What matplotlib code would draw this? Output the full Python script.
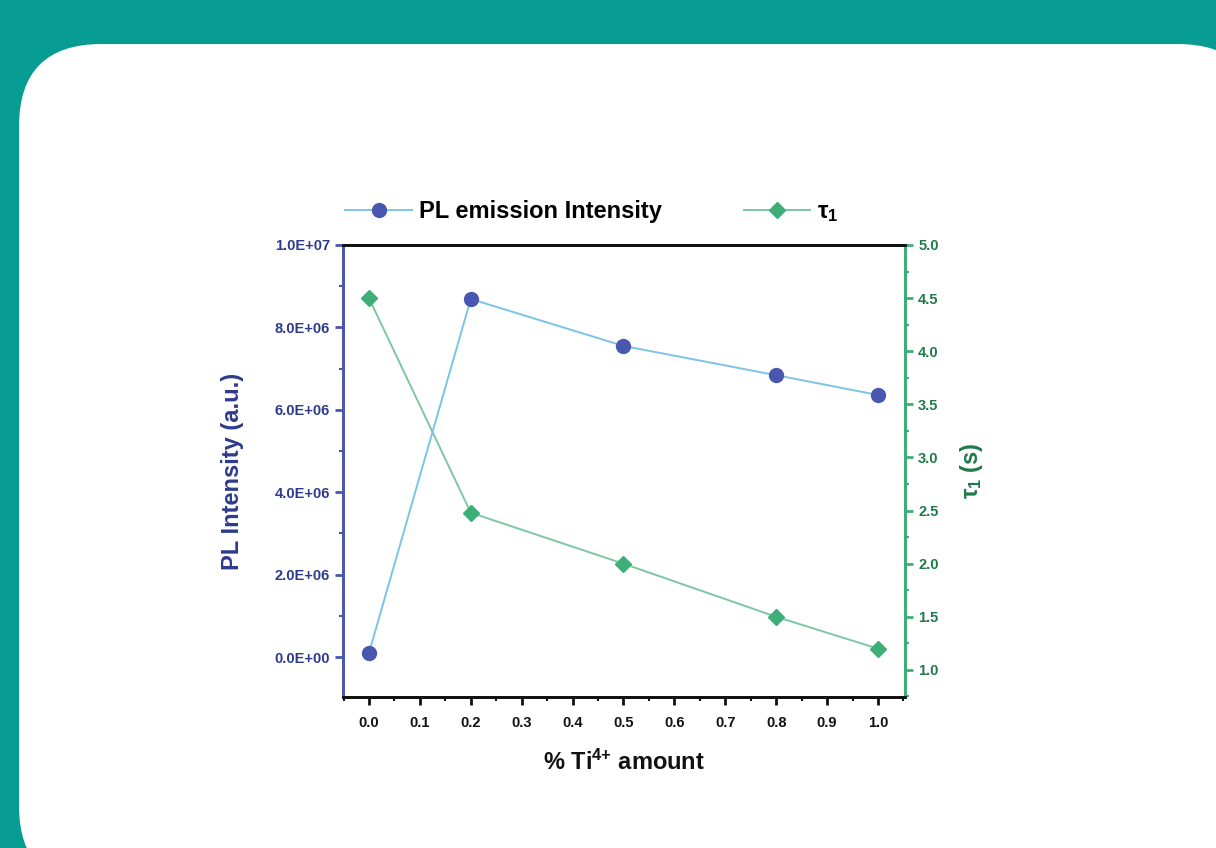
import matplotlib
matplotlib.use("Agg")
import matplotlib.pyplot as plt
from matplotlib.patches import FancyBboxPatch
from matplotlib.ticker import FuncFormatter, AutoMinorLocator

# ---- data ----
ti_amount = [0.0, 0.2, 0.5, 0.8, 1.0]
pl_intensity = [1.0e5, 8.69e6, 7.55e6, 6.84e6, 6.36e6]
tau1 = [4.5, 2.48, 2.0, 1.5, 1.2]
x_ticks = [0.0, 0.1, 0.2, 0.3, 0.4, 0.5, 0.6, 0.7, 0.8, 0.9, 1.0]
pl_ticks = [0.0, 2.0e6, 4.0e6, 6.0e6, 8.0e6, 1.0e7]
tau_ticks = [1.0, 1.5, 2.0, 2.5, 3.0, 3.5, 4.0, 4.5, 5.0]

plt.rcParams['font.family'] = ['Liberation Sans', 'DejaVu Sans']
plt.rcParams['mathtext.fontset'] = 'custom'
plt.rcParams['mathtext.rm'] = 'Liberation Sans:bold'
plt.rcParams['mathtext.it'] = 'Liberation Sans:bold'
plt.rcParams['mathtext.bf'] = 'Liberation Sans:bold'

TEAL = '#069C94'
BLUE = '#4A57B0'
BLUE_TXT = '#2E3A8C'
LBLUE = '#7CC4E6'
GREEN = '#3DAE78'
GREEN_TXT = '#1F7A4A'
LGREEN = '#7CC8A0'

W, H = 1216, 848
fig = plt.figure(figsize=(W / 100, H / 100), dpi=100)
fig.patch.set_facecolor(TEAL)

# white rounded card
card = FancyBboxPatch((19 / W, -40 / H), (1260 - 19) / W, (848 - 44 + 40) / H,
                      boxstyle="round,pad=0,rounding_size=0.068",
                      transform=fig.transFigure, facecolor='white',
                      edgecolor='none', zorder=0,
                      mutation_aspect=W / H)
fig.patches.append(card)

ax = fig.add_axes([343 / W, 1 - 697 / H, (905 - 343) / W, (697 - 245) / H])
ax2 = ax.twinx()
ax.set_zorder(2)
ax.patch.set_visible(False)
ax2.set_zorder(1)

l1, = ax.plot(ti_amount, pl_intensity, '-', color=LBLUE, lw=1.4,
              marker='o', markersize=10, markerfacecolor=BLUE,
              markeredgecolor=BLUE, label='PL emission Intensity', zorder=5)
l2, = ax2.plot(ti_amount, tau1, '-', color=LGREEN, lw=1.4,
               marker='D', markersize=8.5, markerfacecolor=GREEN,
               markeredgecolor=GREEN, label=r'$\tau_1$', zorder=5)

ax.set_xlim(-0.051, 1.053)
ax.set_ylim(-0.97e6, 1.0e7)
ax2.set_ylim(0.745, 5.0)

ax.set_xticks(x_ticks)
ax.set_xticklabels([f"{v:.1f}" for v in x_ticks])
ax.xaxis.set_minor_locator(AutoMinorLocator(2))
ax.set_yticks(pl_ticks)
ax.yaxis.set_major_formatter(FuncFormatter(lambda v, p: f"{v:.1E}"))
ax.yaxis.set_minor_locator(AutoMinorLocator(2))
ax2.set_yticks(tau_ticks)
ax2.set_yticklabels([f"{v:.1f}" for v in tau_ticks])
ax2.yaxis.set_minor_locator(AutoMinorLocator(2))

for a in (ax, ax2):
    for s in a.spines.values():
        s.set_linewidth(2.0)
    a.spines['top'].set_color('#111111')
    a.spines['bottom'].set_color('#111111')
    a.spines['left'].set_color(BLUE)
    a.spines['right'].set_color(GREEN)

ax.tick_params(axis='x', which='major', direction='out', length=6, width=2,
               labelsize=10.5, colors='#111111', pad=8)
ax.tick_params(axis='x', which='minor', direction='out', length=3, width=1.5,
               colors='#111111')
ax.tick_params(axis='y', which='major', direction='out', length=6, width=2,
               labelsize=10.5, colors=BLUE, labelcolor=BLUE_TXT)
ax.tick_params(axis='y', which='minor', direction='out', length=3, width=1.5,
               colors=BLUE)
ax2.tick_params(axis='y', which='major', direction='out', length=6, width=2,
                labelsize=10.5, colors=GREEN, labelcolor=GREEN_TXT)
ax2.tick_params(axis='y', which='minor', direction='out', length=3, width=1.5,
                colors=GREEN)
for lab in ax.get_xticklabels() + ax.get_yticklabels() + ax2.get_yticklabels():
    lab.set_fontweight('bold')

ax.set_xlabel(r'% Ti$^{4{+}}$ amount', fontsize=17, fontweight='bold',
              color='#111111', labelpad=14)
ax.set_ylabel('PL Intensity (a.u.)', fontsize=17, fontweight='bold',
              color=BLUE_TXT, labelpad=22)
ax2.set_ylabel(r'$\tau_1$ (s)', fontsize=17, fontweight='bold',
               color=GREEN_TXT, labelpad=14)

fig.legend(handles=[l1, l2], loc='center', bbox_to_anchor=(592 / W, 1 - 212 / H),
           ncol=2, frameon=False, columnspacing=3.5,
           handlelength=2.8, handletextpad=0.3,
           prop={'weight': 'bold', 'size': 17})

fig.savefig('out.png', dpi=100, facecolor=fig.get_facecolor())
